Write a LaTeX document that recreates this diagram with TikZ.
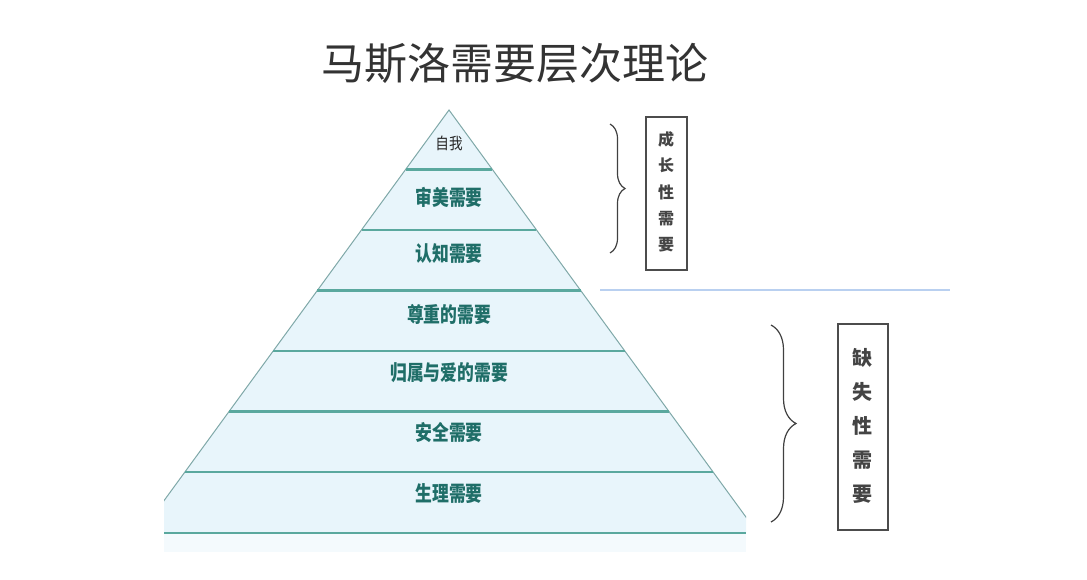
\documentclass[tikz,border=0pt]{standalone}
\usepackage{fontspec}
\setmainfont{Noto Sans CJK SC}
\newfontfamily\cjk{Noto Sans CJK SC}
\usetikzlibrary{decorations.pathreplacing}
\definecolor{pyrfill}{HTML}{E8F5FB}
\definecolor{pyrline}{HTML}{5AA89E}
\definecolor{pyredge}{HTML}{7FA8A8}
\definecolor{lvltext}{HTML}{1F6E68}
\definecolor{titletext}{HTML}{333333}
\definecolor{divline}{HTML}{B9D0F0}
\definecolor{sidetext}{HTML}{444444}
\tikzset{
  lvl/.style={font=\cjk\bfseries\fontsize{21}{21}\selectfont, text=lvltext, xscale=0.8, inner sep=0pt},
  levelline/.style={draw=pyrline, line width=2.4pt},
  edgeline/.style={draw=pyredge, line width=1pt},
  sidebox/.style={draw=black!70, line width=1.2pt},
  sidechar/.style={font=\cjk\bfseries\fontsize{#1}{#1}\selectfont, text=sidetext, inner sep=0pt},
  bracestyle/.style={draw=black!75, line width=1.2pt, decorate, decoration={brace, amplitude=#1}},
}
\begin{document}
\begin{tikzpicture}[x=1pt,y=-1pt]
\useasboundingbox (0,0) rectangle (1087,579);
% title
\node[font=\cjk\fontsize{43}{43}\selectfont, text=titletext, inner sep=0pt] (title) at (515,63) {马斯洛需要层次理论};
% pyramid
\begin{scope}
  \clip (164,100) rectangle (746,560);
  \fill[pyrfill] (449,110) -- (140.4,533) -- (757.6,533) -- cycle;
  \draw[edgeline] (140.4,533) -- (449,110) -- (757.6,533);
\end{scope}
\fill[pyrfill!50] (164,533) rectangle (746,552);
\coordinate (apex) at (449,110);
\foreach \y/\n in {169.5/l1,230/l2,290.5/l3,351/l4,411.5/l5,472/l6}{
  \pgfmathsetmacro{\dx}{(\y-110)*0.729}
  \coordinate (\n w) at ({449-\dx},\y);
  \coordinate (\n e) at ({449+\dx},\y);
  \draw[levelline] (\n w) -- (\n e);
}
\coordinate (l7w) at (164,533);
\coordinate (l7e) at (746,533);
\draw[levelline] (l7w) -- (l7e);
% labels
\node[font=\cjk\fontsize{16}{16}\selectfont, text=black!85, inner sep=0pt, xscale=0.85] (self) at (449,143) {自我};
\node[lvl] (aes) at (449,197) {审美需要};
\node[lvl] (cog) at (449,254) {认知需要};
\node[lvl] (est) at (449,314) {尊重的需要};
\node[lvl] (bel) at (449,373) {归属与爱的需要};
\node[lvl] (saf) at (449,433) {安全需要};
\node[lvl] (phy) at (449,494) {生理需要};
% divider
\coordinate (d1) at (600,290);
\coordinate (d2) at (950,290);
\draw[divline, line width=1.3pt] (d1) -- (d2);
% braces
\coordinate (b1t) at (610,124);
\coordinate (b1b) at (610,253);
\draw[bracestyle=15pt] (b1t) -- (b1b);
\coordinate (b2t) at (771,325);
\coordinate (b2b) at (771,522);
\draw[bracestyle=25pt] (b2t) -- (b2b);
% boxes
\node[sidebox, minimum width=41pt, minimum height=153pt, inner sep=0pt] (grow) at (666.5,193.5) {};
\foreach \t/\y [count=\i] in {成/139,长/165.5,性/192,需/218.5,要/245}{
  \node[sidechar=16] (g\i) at (666,\y) {\t};
}
\node[sidebox, minimum width=50pt, minimum height=206pt, inner sep=0pt] (def) at (863,427) {};
\foreach \t/\y [count=\i] in {缺/358,失/392,性/426,需/460,要/494}{
  \node[sidechar=20] (f\i) at (862,\y) {\t};
}
\end{tikzpicture}
\end{document}
